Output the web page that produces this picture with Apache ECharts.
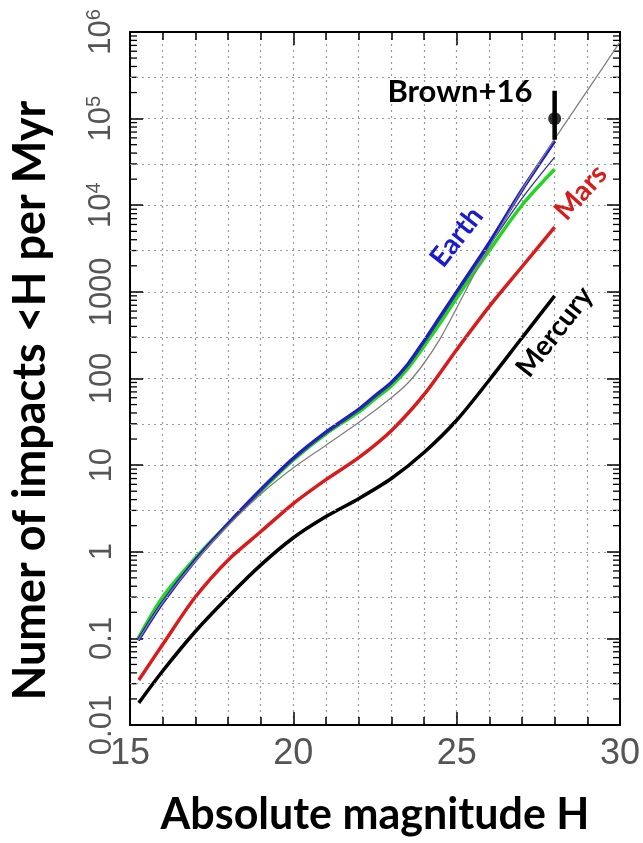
<!DOCTYPE html>
<html><head><meta charset="utf-8">
<script src="https://cdn.jsdelivr.net/npm/echarts@6/dist/echarts.min.js"></script>
<style>html,body{margin:0;padding:0;background:#fff}#c{width:643px;height:843px}</style>
</head><body><div id="c"></div>
<script>
// ---- data ----
const yDecades = [0.01, 0.1, 1, 10, 100, 1000, 1e4, 1e5, 1e6];
const yThrees  = [0.03, 0.3, 3, 30, 300, 3000, 3e4, 3e5];
const yLabelText = ['0.01', '0.1', '1', '10', '100', '1000', '10^4', '10^5', '10^6'];

const hEarth = [15.25, 16, 17, 18, 19, 20, 21, 22, 22.5, 23, 23.5, 24, 24.5, 25, 26, 27, 28];
const earth  = [0.095, 0.26, 0.8, 2.1, 5.2, 12, 24, 44, 63, 90, 145, 270, 520, 1000, 3700, 15000, 55000];

const hGreen = [15.25, 16, 17, 18, 19, 20, 21, 22, 22.5, 23, 23.5, 24, 24.5, 25, 26, 27, 28];
const green  = [0.1, 0.3, 0.85, 2.1, 5, 11.5, 23, 41, 58, 82, 130, 235, 440, 850, 3000, 10000, 26000];

const hNavy = [15.25, 16, 17, 18, 19, 20, 21, 22, 22.5, 23, 23.5, 24, 24.5, 25, 26, 27, 28];
const navy  = [0.095, 0.26, 0.8, 2.1, 5.1, 11.5, 23.5, 43, 61, 87, 140, 255, 490, 950, 3400, 12000, 36000];

const hGray = [15.25, 16, 17, 18, 19, 20, 21, 22, 23, 23.5, 24, 24.5, 25, 25.5, 26, 27, 28, 29, 30];
const gray  = [0.095, 0.26, 0.78, 2.0, 4.6, 9.3, 17, 31, 60, 88, 150, 290, 650, 1500, 3300, 15000, 58000, 210000, 770000];

const hMars = [15.27, 16, 17, 18, 19, 20, 21, 22, 23, 24, 25, 26, 27, 28];
const mars  = [0.033, 0.085, 0.3, 0.8, 1.7, 3.6, 6.8, 12.2, 25, 65, 215, 680, 1950, 5600];

const hMercury = [15.27, 16, 17, 18, 19, 20, 21, 22, 23, 24, 25, 26, 27, 28];
const mercury  = [0.018, 0.042, 0.12, 0.3, 0.7, 1.45, 2.55, 4.1, 7.0, 14, 33, 96, 295, 900];

const brownH = 28, brownVal = 1e5, brownLow = 5.7e4, brownHigh = 2.1e5;

const annotations = [
  { name: 'Earth',    h: 25.0,  v: 4300,  color: '#1a1acf', rot: 52, size: 28 },
  { name: 'Mars',     h: 28.8,  v: 14000, color: '#d81b1b', rot: 48, size: 28 },
  { name: 'Mercury',  h: 28.0,  v: 345,   color: '#000000', rot: 52, size: 28 },
  { name: 'Brown+16', h: 25.1,  v: 204000, color: '#000000', rot: 0, size: 31 }
];

// ---- chart ----
const pair = (xs, ys) => xs.map((x, i) => [x, ys[i]]);
const minorVals = [];
for (let k = -2; k < 6; k++) for (let m = 2; m <= 9; m++) minorVals.push(m * Math.pow(10, k));

const tickFont = { fontFamily: 'Liberation Sans', color: '#555' };
const gridDot = { type: [2, 4], color: '#9a9a9a', width: 1.2 };

const chart = echarts.init(document.getElementById('c'), null, { renderer: 'canvas' });
const lineBase = { type: 'line', smooth: 0.3, symbol: 'none', animation: false, silent: true };

chart.setOption({
  animation: false,
  grid: { left: 125, right: 22, top: 32, bottom: 118 },
  xAxis: [{
    type: 'value', min: 15, max: 30, interval: 5, position: 'bottom',
    name: 'Absolute magnitude H', nameLocation: 'middle', nameGap: 69,
    nameTextStyle: { fontFamily: 'Lato', fontWeight: 'bold', fontSize: 43, color: '#000' },
    axisLine: { lineStyle: { color: '#000', width: 2 } },
    axisTick: { inside: true, length: 13, lineStyle: { color: '#000', width: 1.5 } },
    minorTick: { show: true, splitNumber: 5, length: 8, lineStyle: { color: '#000', width: 1.5 } },
    axisLabel: Object.assign({ fontSize: 36, margin: 11 }, tickFont),
    splitLine: { show: true, lineStyle: gridDot },
    minorSplitLine: { show: true, lineStyle: gridDot }
  }, {
    type: 'value', min: 15, max: 30, interval: 5, position: 'top',
    axisLine: { lineStyle: { color: '#000', width: 2 } },
    axisTick: { inside: true, length: 13, lineStyle: { color: '#000', width: 1.5 } },
    minorTick: { show: true, splitNumber: 5, length: 8, lineStyle: { color: '#000', width: 1.5 } },
    axisLabel: { show: false }, splitLine: { show: false }
  }],
  yAxis: [{
    type: 'log', logBase: 10, min: 0.01, max: 1e6, splitNumber: 8, position: 'left',
    name: 'Numer of impacts <H per Myr', nameLocation: 'middle', nameGap: 77,
    nameTextStyle: { fontFamily: 'Lato', fontWeight: 'bold', fontSize: 45, color: '#000', padding: [0, 44, 0, 0] },
    axisLine: { lineStyle: { color: '#000', width: 2 } },
    axisTick: { inside: true, length: 13, lineStyle: { color: '#000', width: 1.5 } },
    axisLabel: Object.assign({
      fontSize: 31, margin: 12, rotate: 90,
      formatter: function (v) {
        const i = yDecades.findIndex(d => Math.abs(Math.log10(d) - Math.log10(v)) < 1e-6);
        if (i < 0) return '';
        const t = yLabelText[i];
        if (t.indexOf('^') > 0) { const p = t.split('^'); return '{b|' + p[0] + '}{s|' + p[1] + '}'; }
        return '{b|' + t + '}';
      },
      rich: {
        b: { fontSize: 31, fontFamily: 'Liberation Sans', color: '#555' },
        s: { fontSize: 20, fontFamily: 'Liberation Sans', color: '#555', verticalAlign: 'top', padding: [0, 0, 14, 0] }
      }
    }, tickFont),
    splitLine: { show: true, lineStyle: gridDot }
  }, {
    type: 'log', logBase: 10, min: 0.01, max: 1e6, splitNumber: 8, position: 'right',
    axisLine: { lineStyle: { color: '#000', width: 2 } },
    axisTick: { inside: true, length: 13, lineStyle: { color: '#000', width: 1.5 } },
    axisLabel: { show: false }, splitLine: { show: false }
  }],
  series: [
    { type: 'line', data: [], silent: true, animation: false,
      markLine: { silent: true, symbol: 'none', label: { show: false }, animation: false,
        lineStyle: gridDot, data: yThrees.map(v => ({ yAxis: v })) } },
    { type: 'custom', silent: true, animation: false, clip: false,
      data: minorVals.map(v => [15, v]),
      renderItem: function (params, api) {
        const v = api.value(1);
        const a = api.coord([15, v]), b = api.coord([30, v]);
        const st = { stroke: '#000', lineWidth: 1.3 };
        return { type: 'group', children: [
          { type: 'line', shape: { x1: a[0], y1: a[1], x2: a[0] + 7, y2: a[1] }, style: st },
          { type: 'line', shape: { x1: b[0], y1: b[1], x2: b[0] - 7, y2: b[1] }, style: st }
        ] };
      } },
    Object.assign({ name: 'green', data: pair(hGreen, green), lineStyle: { color: '#22d622', width: 3.5 } }, lineBase),
    Object.assign({ name: 'Earth', data: pair(hEarth, earth), lineStyle: { color: '#1a1acf', width: 3.5 } }, lineBase),
    Object.assign({ name: 'navy', data: pair(hNavy, navy), lineStyle: { color: '#34348f', width: 1.3 } }, lineBase),
    Object.assign({ name: 'gray', data: pair(hGray, gray), lineStyle: { color: '#808080', width: 1.3 } }, lineBase),
    Object.assign({ name: 'Mars', data: pair(hMars, mars), lineStyle: { color: '#d81b1b', width: 3.5 } }, lineBase),
    Object.assign({ name: 'Mercury', data: pair(hMercury, mercury), lineStyle: { color: '#000', width: 3.5 } }, lineBase),
    { type: 'line', symbol: 'none', silent: true, animation: false,
      data: [[brownH, brownLow], [brownH, brownHigh]], lineStyle: { color: '#000', width: 4.5 } },
    { type: 'scatter', silent: true, animation: false, symbol: 'circle', symbolSize: 13,
      itemStyle: { color: '#000' }, data: [[brownH, brownVal]] },
    { type: 'scatter', silent: true, animation: false, symbolSize: 0,
      data: annotations.map(a => ({
        value: [a.h, a.v],
        label: { show: true, position: 'inside', formatter: a.name, rotate: a.rot,
          color: a.color, fontFamily: 'Lato', fontWeight: 'bold', fontSize: a.size,
          textBorderWidth: 0, textBorderColor: 'transparent', opacity: 1 }
      })) }
  ]
});
</script></body></html>
